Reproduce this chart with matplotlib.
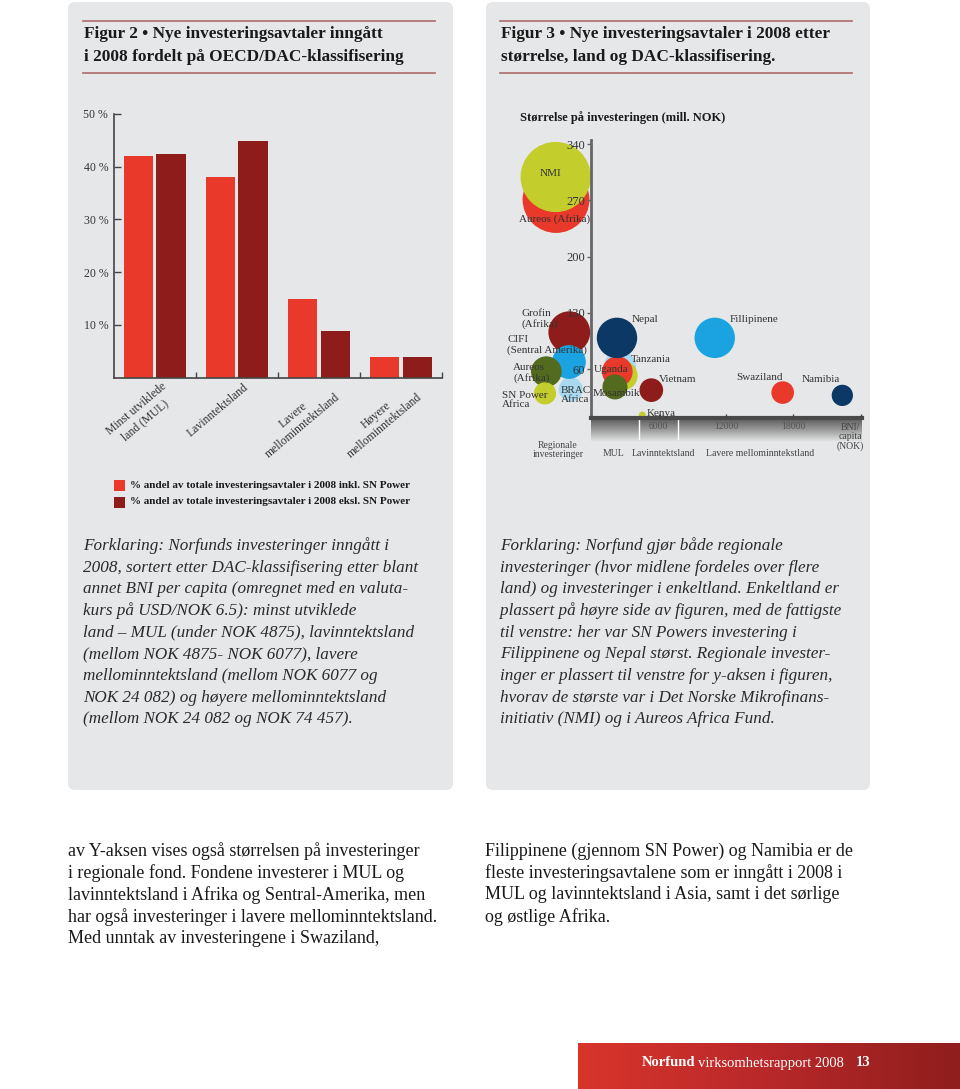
import matplotlib.pyplot as plt
import numpy as np
from matplotlib.patches import FancyBboxPatch, Rectangle
from matplotlib.colors import LinearSegmentedColormap

plt.rcParams['font.family'] = ['Liberation Serif', 'DejaVu Serif']

W, H = 960, 1089

# Figur 2 - andel per DAC-kategori
categories = ["Minst utviklede\nland (MUL)", "Lavinntektsland",
              "Lavere\nmellominntektsland", "Høyere\nmellominntektsland"]
share_incl = [42.0, 38.0, 14.9, 3.9]
share_excl = [42.4, 44.8, 8.8, 3.9]
pct_ticks = [10, 20, 30, 40, 50]
legend_labels = ["% andel av totale investeringsavtaler i 2008 inkl. SN Power",
                 "% andel av totale investeringsavtaler i 2008 eksl. SN Power"]

# Figur 3 - boblediagram (x = BNI/capita, y = storrelse mill. NOK)
reg_names = ["Aureos (Afrika)", "NMI", "BRAC Africa", "Grofin (Afrika)",
             "CIFI (Sentral Amerika)", "Aureos (Afrika)", "SN Power Africa"]
reg_x = [-3110, -3140, -1800, -1930, -1960, -3970, -4090]
reg_size = [271, 299, 35, 106, 69, 57, 30]
land_names = ["Tanzania", "", "Uganda", "Mosambik", "Nepal", "Vietnam",
              "Kenya", "Fillipinene", "Swaziland", "Namibia"]
land_bni = [2580, 2840, 2340, 2130, 2310, 5360, 4560, 11000, 17040, 22340]
land_size = [63, 52, 57, 38, 99, 34, 3, 99, 31, 27.5]
size_ticks = [60, 130, 200, 270, 340]
bni_ticks = [6000, 12000, 18000, 24000]
bni_ticklabels = ["6000", "12000", "18000", ""]
zone_edges = [4300, 7700]

RED = "#e8392b"
DRED = "#8d1c1a"
YG = "#c3cd2b"
BLUE = "#1aa3e0"
LBLUE = "#a9d9ef"
NAVY = "#0c3865"
OLIVE = "#526b1e"
PANEL = "#e6e7e8"

reg_colors = [RED, YG, LBLUE, DRED, BLUE, OLIVE, YG]
land_colors = [LBLUE, YG, RED, OLIVE, NAVY, DRED, YG, BLUE, RED, NAVY]

fig = plt.figure(figsize=(9.6, 10.89), dpi=100)
bg = fig.add_axes([0, 0, 1, 1], zorder=0)
bg.set_xlim(0, W)
bg.set_ylim(H, 0)
bg.axis('off')

# overlay for text labels on top of the charts
top = fig.add_axes([0, 0, 1, 1], zorder=5)
top.set_xlim(0, W)
top.set_ylim(H, 0)
top.axis('off')
top.patch.set_visible(False)

for x0, x1 in [(68, 453), (486, 870)]:
    bg.add_patch(FancyBboxPatch((x0, 2), x1 - x0, 788,
                                boxstyle="round,pad=0,rounding_size=7",
                                fc=PANEL, ec='none'))

# titles
for x0, x1, lines in [(83, 435, ["Figur 2 • Nye investeringsavtaler inngått",
                                 "i 2008 fordelt på OECD/DAC-klassifisering"]),
                      (500, 852, ["Figur 3 • Nye investeringsavtaler i 2008 etter",
                                  "størrelse, land og DAC-klassifisering."])]:
    bg.plot([x0, x1], [20.7, 20.7], color="#b27575", lw=1.3)
    bg.plot([x0, x1], [72.7, 72.7], color="#b27575", lw=1.3)
    for i, s in enumerate(lines):
        bg.text(x0 + 1, 34 + 23 * i, s, fontsize=12.4, fontweight='bold',
                color="#1a1a1a", va='center', ha='left')

# ---- Figur 2 ----
ax1 = fig.add_axes([113.7 / W, 1 - 377.7 / H, (442 - 113.7) / W, (377.7 - 114) / H], zorder=2)
ax1.patch.set_visible(False)
idx = np.arange(len(categories))
ax1.bar(idx + 0.30, share_incl, width=0.36, color=RED)
ax1.bar(idx + 0.70, share_excl, width=0.36, color=DRED)
ax1.set_xlim(0, 4)
ax1.set_ylim(0, 50)
for sp in ['top', 'right']:
    ax1.spines[sp].set_visible(False)
for sp in ['left', 'bottom']:
    ax1.spines[sp].set_color('#444')
    ax1.spines[sp].set_linewidth(1.2)
ax1.set_yticks(pct_ticks)
ax1.set_yticklabels([f"{v} %" for v in pct_ticks])
ax1.set_xticks([1, 2, 3, 4])
ax1.set_xticklabels([])
ax1.tick_params(axis='y', direction='in', length=5, width=1, color='#444',
                labelsize=8.5, labelcolor='#333', pad=4)
ax1.tick_params(axis='x', direction='in', length=4, width=1, color='#444')
for i, cat in enumerate(categories):
    ax1.text(i + 0.58, -0.6, cat, rotation=40, ha='right', va='top',
             rotation_mode='anchor', multialignment='center',
             fontsize=8.5, color='#333')

# legend
for i, (lab, col) in enumerate(zip(legend_labels, [RED, DRED])):
    yc = 485 + 17 * i
    bg.add_patch(Rectangle((114, yc - 5.5), 11, 11, fc=col, ec='none'))
    bg.text(130, yc, lab, fontsize=8, fontweight='bold', color='#1a1a1a',
            va='center', ha='left')

# ---- Figur 3 ----
ax2 = fig.add_axes([500 / W, 1 - 417.5 / H, 362 / W, 277.5 / H], zorder=2)
ax2.patch.set_visible(False)
ax2.set_axisbelow(False)

cmap = LinearSegmentedColormap.from_list("shade", ["#555555", "#999999", PANEL])
grad = np.linspace(0, 1, 60).reshape(-1, 1)
ax2.imshow(grad, extent=(0, 24089, -30, 0), aspect='auto', cmap=cmap,
           clip_on=False, zorder=0)
for ze in zone_edges:
    ax2.plot([ze, ze], [0, -27], color='white', lw=1, clip_on=False, zorder=1)

k = 8.54
ax2.scatter(reg_x, reg_size, s=k * np.array(reg_size), c=reg_colors,
            linewidths=0, clip_on=False, zorder=2)
ax2.scatter(land_bni, land_size, s=k * np.array(land_size), c=land_colors,
            linewidths=0, clip_on=False, zorder=2)
ax2.set_xlim(-8089, 24089)
ax2.set_ylim(0, 345)

for sp in ['top', 'right']:
    ax2.spines[sp].set_visible(False)
ax2.spines['left'].set_position(('data', 0))
ax2.spines['left'].set_bounds(0, 345)
ax2.spines['left'].set_color('#666')
ax2.spines['left'].set_linewidth(2)
ax2.spines['bottom'].set_bounds(0, 24089)
ax2.spines['bottom'].set_color('#4a4a4a')
ax2.spines['bottom'].set_linewidth(3)
ax2.set_yticks(size_ticks)
ax2.set_yticklabels([str(v) for v in size_ticks])
ax2.set_xticks(bni_ticks)
ax2.set_xticklabels(bni_ticklabels)
ax2.tick_params(axis='y', direction='out', length=3, width=1, color='#666',
                labelsize=9, labelcolor='#333', pad=1)
ax2.tick_params(axis='x', direction='in', length=3, width=1, color='#444',
                labelsize=7, labelcolor='#555', pad=3)

top.text(520, 118, "Størrelse på investeringen (mill. NOK)", fontsize=9,
         fontweight='bold', color='#1a1a1a', va='center', ha='left')

lab_kw = dict(fontsize=8, color='#333', va='center', linespacing=1.1)
top.text(550, 173, "NMI", ha='center', **lab_kw)
top.text(555, 219, "Aureos (Afrika)", ha='center', **lab_kw)
top.text(522, 319, "Grofin\n(Afrika)", ha='left', **lab_kw)
top.text(507, 345, "CIFI\n(Sentral Amerika)", ha='left', **lab_kw)
top.text(513, 373, "Aureos\n(Afrika)", ha='left', **lab_kw)
top.text(502, 400, "SN Power\nAfrica", ha='left', **lab_kw)
top.text(561, 395, "BRAC\nAfrica", ha='left', **lab_kw)
top.text(594, 369, "Uganda", ha='left', **lab_kw)
top.text(632, 320, "Nepal", ha='left', **lab_kw)
top.text(631, 359, "Tanzania", ha='left', **lab_kw)
top.text(659, 380, "Vietnam", ha='left', **lab_kw)
top.text(593, 394, "Mosambik", ha='left', **lab_kw)
top.text(647, 413, "Kenya", ha='left', **lab_kw)
top.text(730, 320, "Fillipinene", ha='left', **lab_kw)
top.text(736, 378, "Swaziland", ha='left', **lab_kw)
top.text(802, 379, "Namibia", ha='left', **lab_kw)

small_kw = dict(fontsize=7, color='#444', va='center', ha='center', linespacing=1.0)
top.text(850, 437, "BNI/\ncapita\n(NOK)", **small_kw)
top.text(558, 450, "Regionale\ninvesteringer", **small_kw)
top.text(614, 454, "MUL", **small_kw)
top.text(663, 454, "Lavinntektsland", **small_kw)
top.text(760, 454, "Lavere mellominntekstland", **small_kw)

# ---- forklaringer ----
left_expl = ["Forklaring: Norfunds investeringer inngått i",
             "2008, sortert etter DAC-klassifisering etter blant",
             "annet BNI per capita (omregnet med en valuta-",
             "kurs på USD/NOK 6.5): minst utviklede",
             "land – MUL (under NOK 4875), lavinntektsland",
             "(mellom NOK 4875- NOK 6077), lavere",
             "mellominntektsland (mellom NOK 6077 og",
             "NOK 24 082) og høyere mellominntektsland",
             "(mellom NOK 24 082 og NOK 74 457)."]
right_expl = ["Forklaring: Norfund gjør både regionale",
              "investeringer (hvor midlene fordeles over flere",
              "land) og investeringer i enkeltland. Enkeltland er",
              "plassert på høyre side av figuren, med de fattigste",
              "til venstre: her var SN Powers investering i",
              "Filippinene og Nepal størst. Regionale invester-",
              "inger er plassert til venstre for y-aksen i figuren,",
              "hvorav de største var i Det Norske Mikrofinans-",
              "initiativ (NMI) og i Aureos Africa Fund."]
for x0, lines in [(83, left_expl), (500, right_expl)]:
    for i, s in enumerate(lines):
        bg.text(x0, 546 + 21.65 * i, s, fontsize=12.3, style='italic',
                color='#2a2a2a', va='center', ha='left')

body_left = ["av Y-aksen vises også størrelsen på investeringer",
             "i regionale fond. Fondene investerer i MUL og",
             "lavinntektsland i Afrika og Sentral-Amerika, men",
             "har også investeringer i lavere mellominntektsland.",
             "Med unntak av investeringene i Swaziland,"]
body_right = ["Filippinene (gjennom SN Power) og Namibia er de",
              "fleste investeringsavtalene som er inngått i 2008 i",
              "MUL og lavinntektsland i Asia, samt i det sørlige",
              "og østlige Afrika."]
for x0, lines in [(68, body_left), (485, body_right)]:
    for i, s in enumerate(lines):
        bg.text(x0, 851.5 + 21.7 * i, s, fontsize=13, color='#1a1a1a',
                va='center', ha='left')

# footer
fcmap = LinearSegmentedColormap.from_list("foot", ["#d8352b", "#b8282a", "#8f1e1c"])
bg.imshow(np.linspace(0, 1, 200).reshape(1, -1), extent=(578, 960, 1089, 1043),
          aspect='auto', cmap=fcmap, zorder=1)
bg.set_xlim(0, W)
bg.set_ylim(H, 0)
bg.text(642, 1063, "Norfund", fontsize=10.5, fontweight='bold', color='white',
        va='center', ha='left', zorder=2)
bg.text(698, 1063, "virksomhetsrapport 2008", fontsize=10.5, color='white',
        va='center', ha='left', zorder=2)
bg.text(856, 1063, "13", fontsize=10.5, fontweight='bold', color='white',
        va='center', ha='left', zorder=2)

fig.savefig("out.png", dpi=100)
